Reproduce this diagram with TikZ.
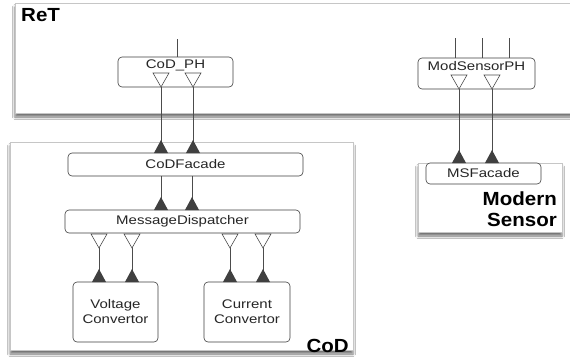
\documentclass[tikz,border=0pt]{standalone}
\usepackage{fontspec}
\setmainfont{Liberation Sans}
\newfontfamily\lblfont[FakeStretch=1.2]{Liberation Sans}
\newfontfamily\ttlfont[FakeStretch=1.08]{Liberation Sans Bold}
\usetikzlibrary{shadows,shadows.blur}
\begin{document}
\begin{tikzpicture}[x=1pt,y=-1pt,
  frame/.style={draw=gray!45, line width=0.6pt, fill=white,
    blur shadow={shadow xshift=0pt, shadow yshift=-4pt, shadow blur radius=2.5pt, shadow opacity=55}},
  comp/.style={draw=black!75, line width=0.6pt, rounded corners=4pt, fill=white,
    inner sep=0pt, font=\lblfont\fontsize{12.5}{15}\selectfont, text=black!85},
  toplbl/.style={font=\lblfont\fontsize{12.5}{15}\selectfont, text=black!85, inner sep=0pt, anchor=north},
  title/.style={font=\ttlfont\fontsize{19}{21}\selectfont, inner sep=0pt},
  wire/.style={draw=black!70, line width=0.7pt},
  openport/.pic={\draw[draw=black!70, line width=0.6pt, fill=white] (-8,-14) -- (8,-14) -- (0,0) -- cycle;},
  fillport/.pic={\fill[black!75] (-7,0) -- (7,0) -- (0,-13) -- cycle;}
]
\useasboundingbox (0,0) rectangle (570,362);
\fill[white] (0,0) rectangle (570,362);

% frames
\node[frame, minimum width=560pt, minimum height=110pt, inner sep=0pt] (ret) at (295,58) {};
\node[frame, minimum width=343pt, minimum height=208pt, inner sep=0pt] (cod) at (181.5,246) {};
\node[frame, minimum width=144pt, minimum height=69pt, inner sep=0pt] (ms) at (490,197.5) {};

\node[title, anchor=north west] (retlbl) at (21,8) {ReT};
\node[title, anchor=base east] (codlbl) at (349,352) {CoD};
\node[title, anchor=north east, align=right] (mslbl) at (557,192) {Modern\\Sensor};

% components
\node[comp, minimum width=115pt, minimum height=30pt] (codph) at (175.5,72) {};
\node[toplbl] (codphl) at (175.5,60) {CoD\_PH};
\node[comp, minimum width=117pt, minimum height=31pt] (msph) at (476.5,73.5) {};
\node[toplbl] (msphl) at (476.5,61) {ModSensorPH};
\node[comp, minimum width=235pt, minimum height=23pt] (codf) at (185.5,164.5) {CoDFacade};
\node[comp, minimum width=235pt, minimum height=23pt] (md) at (182.5,221.5) {MessageDispatcher};
\node[comp, minimum width=85pt, minimum height=60pt, align=center] (vc) at (115.5,312) {Voltage\\Convertor};
\node[comp, minimum width=86pt, minimum height=60pt, align=center] (cc) at (247,312) {Current\\Convertor};
\node[comp, minimum width=115pt, minimum height=21pt] (msf) at (483.5,173.5) {MSFacade};

% free ends
\coordinate (t1) at (177,39);
\coordinate (t2) at (455,38);
\coordinate (t3) at (482,38);
\coordinate (t4) at (509,38);
\draw[wire] (t1) -- (t1 |- codph.north);
\draw[wire] (t2) -- (t2 |- msph.north);
\draw[wire] (t3) -- (t3 |- msph.north);
\draw[wire] (t4) -- (t4 |- msph.north);

% port coordinates
\coordinate (a1) at (161,87);  \coordinate (b1) at (161,153);
\coordinate (a2) at (193,87);  \coordinate (b2) at (193,153);
\coordinate (c1) at (161,176); \coordinate (d1) at (161,210);
\coordinate (c2) at (192,176); \coordinate (d2) at (192,210);
\coordinate (e1) at (99,248);  \coordinate (f1) at (99,282);
\coordinate (e2) at (132,248); \coordinate (f2) at (132,282);
\coordinate (e3) at (230,248); \coordinate (f3) at (230,282);
\coordinate (e4) at (263,248); \coordinate (f4) at (263,282);
\coordinate (g1) at (459,89);  \coordinate (h1) at (459,163);
\coordinate (g2) at (492,89);  \coordinate (h2) at (492,163);

\foreach \p/\q in {a1/b1,a2/b2,c1/d1,c2/d2,g1/h1,g2/h2}
  \draw[wire] (\p) -- (\q);
\foreach \i in {1,2,3,4}
  \draw[wire] (e\i) ++(0,-14) -- (f\i);

\foreach \p in {a1,a2,g1,g2,e1,e2,e3,e4}
  \pic at (\p) {openport};
\foreach \p in {b1,b2,d1,d2,h1,h2,f1,f2,f3,f4}
  \pic at (\p) {fillport};
\end{tikzpicture}
\end{document}
